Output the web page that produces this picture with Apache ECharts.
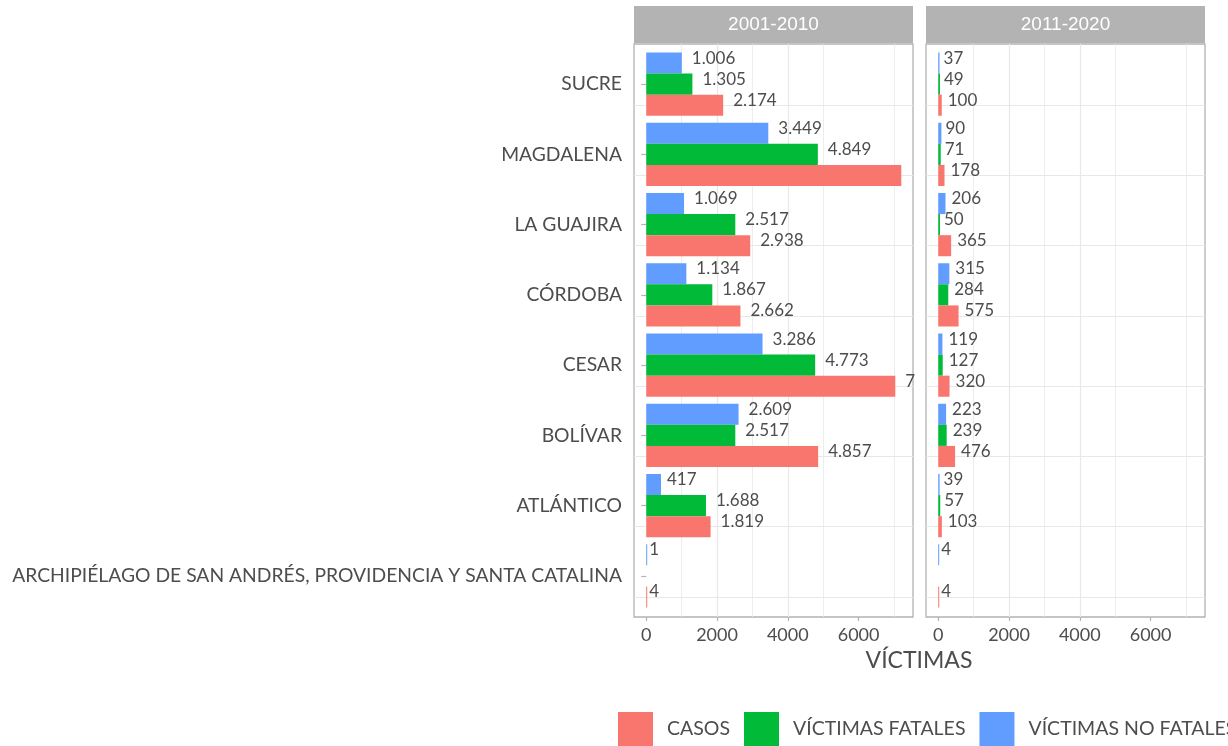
<!DOCTYPE html>
<html>
<head>
<meta charset="utf-8">
<script src="https://cdn.jsdelivr.net/npm/echarts@6/dist/echarts.min.js"></script>
<style>
html, body { margin: 0; padding: 0; background: #fff; }
#chart { width: 1228px; height: 746px; }
</style>
</head>
<body>
<div id="chart"></div>
<script>
// categories, bottom to top
const departamentos = [
  'ARCHIPIÉLAGO DE SAN ANDRÉS, PROVIDENCIA Y SANTA CATALINA',
  'ATLÁNTICO', 'BOLÍVAR', 'CESAR', 'CÓRDOBA', 'LA GUAJIRA', 'MAGDALENA', 'SUCRE'
]
const periodos = ['2001-2010', '2011-2020']
const seriesNames = ['CASOS', 'VÍCTIMAS FATALES', 'VÍCTIMAS NO FATALES']
const colors = ['#F8766D', '#00BA38', '#619CFF']

// 2001-2010
const casos1 = [4, 1819, 4857, 7037, 2662, 2938, 7206, 2174]
const fatales1 = [null, 1688, 2517, 4773, 1867, 2517, 4849, 1305]
const noFatales1 = [1, 417, 2609, 3286, 1134, 1069, 3449, 1006]
// 2011-2020
const casos2 = [4, 103, 476, 320, 575, 365, 178, 100]
const fatales2 = [null, 57, 239, 127, 284, 50, 71, 49]
const noFatales2 = [4, 39, 223, 119, 315, 206, 90, 37]

const xMin = -345
const xMax = 7537
const majorTicks = [0, 2000, 4000, 6000]
const minorTicks = [1000, 3000, 5000, 7000]

const panelData = [
  [casos1, fatales1, noFatales1],
  [casos2, fatales2, noFatales2]
]

const FONT = 'Lato, "DejaVu Sans", sans-serif'
const TEXT = '#4d4d4d'
const GRID_LINE = '#e8e8e8'
const LABEL_SIZE = 17
const panels = [{ left: 634 }, { left: 926 }]
const PANEL_W = 279

const fmt = v => v == null ? '' : String(v).replace(/\B(?=(\d{3})+(?!\d))/g, '.')
const labelGap = v => Math.round(fmt(v).length * 2)

// text measuring, used to cut labels at the panel edge like ggplot does
const ctx = document.createElement('canvas').getContext('2d')
ctx.font = `${LABEL_SIZE}px ${FONT}`
const clipText = (txt, room) => {
  let out = txt
  while (out.length && ctx.measureText(out).width > room) out = out.slice(0, -1)
  return out
}

const buildOption = (labelRoom) => {
  const series = []
  panelData.forEach((metrics, p) => {
    // echarts places horizontal bars top-down in series order, so add them reversed
    for (let m = metrics.length - 1; m >= 0; m--) {
      const values = metrics[m]
      series.push({
        name: seriesNames[m],
        type: 'bar',
        xAxisIndex: 2 + p,
        yAxisIndex: 2 + p,
        barGap: '0%',
        barCategoryGap: '10%',
        barMinHeight: 1,
        itemStyle: { color: colors[m] },
        label: {
          show: true,
          position: 'right',
          offset: [0, -5],
          fontSize: LABEL_SIZE,
          fontFamily: FONT,
          color: TEXT
        },
        data: values.map((v, i) => {
          if (v == null) return '-'
          let txt = fmt(v)
          if (labelRoom) txt = clipText(txt, labelRoom[p][m][i])
          return { value: v, label: { distance: labelGap(v), formatter: txt, show: txt.length > 0 } }
        }),
        markLine: m === 0 ? {
          silent: true,
          symbol: ['none', 'none'],
          z: 1,
          label: { show: false },
          lineStyle: { color: GRID_LINE, type: 'solid', width: 1.2 },
          data: departamentos.map(d => ({ yAxis: d }))
        } : undefined
      })
    }
    // minor vertical gridlines
    series.push({
      type: 'line',
      xAxisIndex: p,
      yAxisIndex: p,
      data: [],
      markLine: {
        silent: true,
        symbol: ['none', 'none'],
        z: 1,
        label: { show: false },
        lineStyle: { color: GRID_LINE, type: 'solid', width: 0.8 },
        data: minorTicks.map(v => ({ xAxis: v }))
      }
    })
  })

  return {
    animation: false,
    backgroundColor: '#fff',
    grid: [
      ...panels.map(pn => ({
        left: pn.left, top: 44, width: PANEL_W, height: 573,
        show: true, borderColor: '#b3b3b3', borderWidth: 1.3, backgroundColor: '#fff'
      })),
      ...panels.map(pn => ({ left: pn.left, top: 49, width: PANEL_W, height: 562 }))
    ],
    xAxis: [
      ...panels.map((pn, p) => ({
        gridIndex: p,
        type: 'value',
        min: xMin,
        max: xMax,
        axisLine: { show: false },
        axisTick: { show: true, customValues: majorTicks, length: 4, lineStyle: { color: '#b3b3b3', width: 1.2 } },
        axisLabel: { customValues: majorTicks, margin: 9, fontSize: 18, fontFamily: FONT, color: TEXT, formatter: v => String(v) },
        splitLine: { show: true, showMinLine: false, showMaxLine: false, lineStyle: { color: GRID_LINE, width: 1.2 } }
      })),
      ...panels.map((pn, p) => ({ gridIndex: 2 + p, type: 'value', min: xMin, max: xMax, show: false }))
    ],
    yAxis: [
      ...panels.map((pn, p) => ({ gridIndex: p, type: 'value', min: 0, max: 1, show: false })),
      {
        gridIndex: 2,
        type: 'category',
        data: departamentos,
        axisLine: { show: false },
        axisTick: { show: true, alignWithLabel: true, length: 5, lineStyle: { color: '#b3b3b3', width: 1.2 } },
        axisLabel: { margin: 12, fontSize: 19.3, fontFamily: FONT, color: TEXT },
        splitLine: { show: false }
      },
      {
        gridIndex: 3,
        type: 'category',
        data: departamentos,
        axisLine: { show: false },
        axisTick: { show: false },
        axisLabel: { show: false },
        splitLine: { show: false }
      }
    ],
    legend: {
      data: seriesNames,
      left: 618,
      top: 712,
      width: 900,
      padding: 0,
      icon: 'rect',
      itemWidth: 35,
      itemHeight: 34,
      itemGap: 14,
      textStyle: { fontSize: 19.5, fontFamily: FONT, color: TEXT, padding: [0, 0, 0, 9] }
    },
    graphic: [
      ...panels.map((pn, p) => ({
        type: 'group',
        children: [
          { type: 'rect', shape: { x: pn.left, y: 6, width: PANEL_W, height: 37 }, style: { fill: '#b3b3b3' } },
          {
            type: 'text', x: pn.left + PANEL_W / 2, y: 25,
            style: { text: periodos[p], align: 'center', verticalAlign: 'middle', fontSize: 19, fontFamily: '"Liberation Sans", Arial, sans-serif', fill: '#fff' }
          }
        ]
      })),
      {
        type: 'text', x: 919, y: 661,
        style: { text: 'VÍCTIMAS', align: 'center', verticalAlign: 'middle', fontSize: 23, fontFamily: FONT, fill: TEXT }
      }
    ],
    series
  }
}

const chart = echarts.init(document.getElementById('chart'))
chart.setOption(buildOption(null))

// room left for each label between its bar end and the panel border
const labelRoom = panelData.map((metrics, p) => metrics.map(values => values.map(v => {
  if (v == null) return 0
  const end = chart.convertToPixel({ xAxisIndex: 2 + p }, v)
  const right = panels[p].left + PANEL_W
  return right - (end + labelGap(v)) + 4
})))
chart.setOption(buildOption(labelRoom), { notMerge: true })
</script>
</body>
</html>
